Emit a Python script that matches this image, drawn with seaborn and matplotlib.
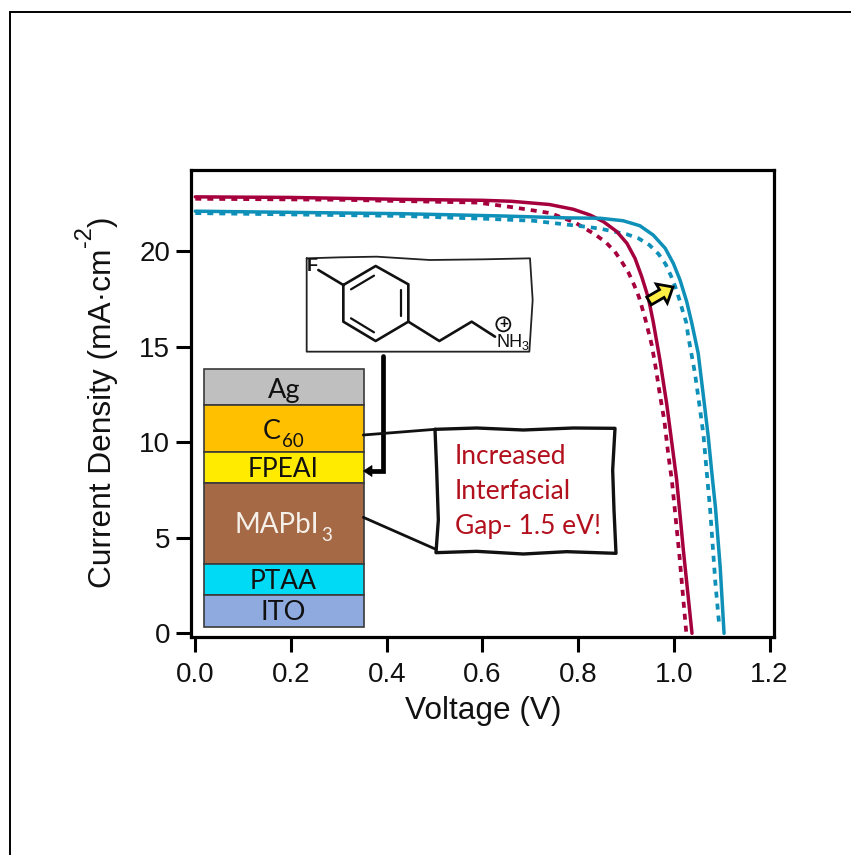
import numpy as np
import pandas as pd
import matplotlib
matplotlib.use("Agg")
import matplotlib.pyplot as plt
import seaborn as sns
from matplotlib.patches import Rectangle, FancyArrow, Circle

# ---- J-V curves ----
red_solid_v = [0.0, 0.2, 0.43, 0.6, 0.66, 0.74, 0.79, 0.825, 0.853, 0.881, 0.902, 0.919, 0.933, 0.947, 0.957,
               0.971, 0.985, 0.996, 1.006, 1.013, 1.02, 1.038]
red_solid_j = [22.85, 22.82, 22.72, 22.67, 22.62, 22.45, 22.2, 21.9, 21.55, 21.03, 20.42, 19.63, 18.67, 17.54, 16.31,
               14.31, 12.04, 9.95, 8.03, 6.2, 4.35, 0.0]

red_dash_v = [0.0, 0.3, 0.59, 0.665, 0.742, 0.794, 0.835, 0.858, 0.877, 0.892, 0.906, 0.917, 0.927, 0.934, 0.941,
              0.954, 0.963, 0.971, 0.98, 0.989, 0.996, 1.012, 1.026]
red_dash_j = [22.75, 22.7, 22.55, 22.3, 22.0, 21.5, 20.89, 20.47, 19.98, 19.42, 18.85, 18.24, 17.62, 17.02, 16.4,
              15.09, 13.79, 12.48, 11.17, 9.25, 8.0, 4.0, 0.05]

blue_solid_v = [0.0, 0.43, 0.64, 0.776, 0.846, 0.894, 0.929, 0.957, 0.982, 0.999, 1.013, 1.027, 1.037,
                1.051, 1.062, 1.072, 1.081, 1.087, 1.097, 1.105]
blue_solid_j = [22.1, 21.97, 21.85, 21.75, 21.73, 21.6, 21.34, 20.85, 20.16, 19.37, 18.5, 17.36, 16.31,
                14.66, 12.39, 10.29, 8.03, 6.6, 3.45, 0.0]

blue_dash_v = [0.0, 0.433, 0.61, 0.706, 0.776, 0.825, 0.849, 0.902, 0.926, 0.949, 0.968, 0.983, 0.994, 1.003,
               1.012, 1.019, 1.026, 1.03, 1.044, 1.055, 1.062, 1.069, 1.076, 1.087, 1.095]
blue_dash_j = [22.0, 21.85, 21.7, 21.6, 21.4, 21.26, 21.17, 20.89, 20.68, 20.33, 19.86, 19.32, 18.72, 18.15,
               17.45, 16.84, 16.28, 15.57, 13.64, 11.69, 10.38, 8.38, 6.45, 2.6, 0.4]

x_ticks = [0.0, 0.2, 0.4, 0.6, 0.8, 1.0, 1.2]
y_ticks = [0, 5, 10, 15, 20]

# device stack, top to bottom (pixel tops of each layer)
layer_names = ["Ag", "C", "FPEAI", "MAPbI", "PTAA", "ITO"]
layer_tops = [369, 405, 452, 483, 564, 595]
layer_bottoms = [405, 452, 483, 564, 595, 627]
layer_colors = ["#BFBFBF", "#FFC000", "#FFEB00", "#A56A45", "#00DAF5", "#8EAADF"]

RED = "#A5003D"
BLUE = "#0E90B8"
W, H = 851, 855

sns.set_theme(style="ticks")
plt.rcParams["font.family"] = ["Liberation Sans", "DejaVu Sans"]

fig = plt.figure(figsize=(W / 100, H / 100), dpi=100, facecolor="white")
ax = fig.add_axes([191 / W, 1 - 637 / H, (774 - 191) / W, (637 - 170) / H])

curves = pd.concat([
    pd.DataFrame({"v": red_dash_v, "j": red_dash_j, "s": "red_dash"}),
    pd.DataFrame({"v": blue_dash_v, "j": blue_dash_j, "s": "blue_dash"}),
    pd.DataFrame({"v": red_solid_v, "j": red_solid_j, "s": "red_solid"}),
    pd.DataFrame({"v": blue_solid_v, "j": blue_solid_j, "s": "blue_solid"}),
])
for name, col, ls, lw in [("red_dash", RED, (0, (1.6, 1.6)), 2.7), ("blue_dash", BLUE, (0, (1.6, 1.6)), 2.7),
                          ("red_solid", RED, "-", 2.5), ("blue_solid", BLUE, "-", 2.5)]:
    sns.lineplot(data=curves[curves.s == name], x="v", y="j", color=col, lw=lw,
                 linestyle=ls, estimator=None, sort=False, ax=ax, legend=False)

# pixel -> data calibration from the tick marks
ax.set_xlim((191 - 195.3) / 478.5, (774 - 195.3) / 478.5)
ax.set_ylim((633.3 - 637) / 19.1, (633.3 - 170) / 19.1)
ax.set_xticks(x_ticks)
ax.set_yticks(y_ticks)
ax.set_xticklabels([f"{t:.1f}" for t in x_ticks])
ax.tick_params(length=11, width=2.2, labelsize=20, color="black", labelcolor="#111111", pad=4)
ax.tick_params(axis="x", pad=7)
for s in ax.spines.values():
    s.set_visible(True)
    s.set_linewidth(2.3)
    s.set_color("black")
ax.set_xlabel("")
ax.set_ylabel("")

# overlay in pixel coordinates for the hand drawn bits
ov = fig.add_axes([0, 0, 1, 1], facecolor="none")
ov.set_xlim(0, W)
ov.set_ylim(H, 0)
ov.axis("off")

# frame left over from the slide
ov.plot([10, 10, W], [H, 12, 12], color="black", lw=1.4, solid_joinstyle="miter")

ov.text(483, 711, "Voltage (V)", fontsize=22.8, ha="center", va="center", color="#111111")
ov.text(103, 418, "Current Density (mA·cm", fontsize=22.8, rotation=90, ha="center", va="center", color="#111111")
ov.text(85, 237, "-2", fontsize=17, rotation=90, ha="center", va="center", color="#111111")
ov.text(103, 222, ")", fontsize=22.8, rotation=90, ha="center", va="center", color="#111111")

# device stack
for top, bot, col in zip(layer_tops, layer_bottoms, layer_colors):
    ov.add_patch(Rectangle((203.5, top), 160, bot - top, fc=col, ec="#3A3A3A", lw=1.2))

stack = dict(family=["Lato", "DejaVu Sans"], ha="center", va="center", color="#111111")
ov.text(284, 390, "Ag", fontsize=19.5, **stack)
ov.text(272, 431, "C", fontsize=19.5, **stack)
ov.text(293, 441, "60", fontsize=13.5, **stack)
ov.text(283, 469, "FPEAI", fontsize=19, **stack)
stack["color"] = "#F5F0EA"
ov.text(277, 525, "MAPbI", fontsize=20, **stack)
ov.text(327, 535, "3", fontsize=13.5, **stack)
stack["color"] = "#111111"
ov.text(283, 581, "PTAA", fontsize=19, **stack)
ov.text(283, 612, "ITO", fontsize=19.5, **stack)


def z1(px, py):
    # zoom crop coords of the molecule -> figure pixels
    return [190 + x / 3 for x in px], [240 + y / 3 for y in py]


def z2(px, py):
    return [190 + x / 3 for x in px], [360 + y / 3 for y in py]


# molecule box
ov.plot(*z1([350, 450, 560, 720, 880, 1020, 1028, 1018, 700, 350, 350],
            [55, 52, 50, 60, 58, 55, 180, 335, 335, 335, 55]), color="#222222", lw=1.3)
# ring and chain
ov.plot(*z1([460, 557, 655, 655, 557, 460, 460], [135, 78, 133, 245, 303, 245, 135]), color="#111111", lw=1.9)
ov.plot(*z1([385, 460], [90, 135]), color="#111111", lw=1.9)
ov.plot(*z1([655, 748, 845, 915], [245, 303, 245, 290]), color="#111111", lw=1.9)
ov.plot(*z1([483, 552], [148, 107]), color="#111111", lw=1.6)
ov.plot(*z1([632, 632], [150, 228]), color="#111111", lw=1.6)
ov.plot(*z1([483, 552], [235, 277]), color="#111111", lw=1.6)
ov.text(190 + 366 / 3, 240 + 78 / 3, "F", fontsize=13, fontweight="bold", ha="center", va="center", color="#111111")
ov.text(190 + 920 / 3, 240 + 307 / 3, "NH", fontsize=13, ha="left", va="center", color="#111111")
ov.text(190 + 1004 / 3, 240 + 320 / 3, "3", fontsize=9, ha="center", va="center", color="#111111")
ov.add_patch(Circle((190 + 940 / 3, 240 + 253 / 3), 7, fc="none", ec="#111111", lw=1.3))
ov.text(190 + 940 / 3, 240 + 252 / 3, "+", fontsize=11, fontweight="bold", ha="center", va="center", color="#111111")

# arrow molecule -> FPEAI
ov.plot([382.7, 382.7, 370], [356, 471, 471], color="black", lw=3.4, solid_joinstyle="miter")
ov.add_patch(FancyArrow(372, 471, -8.5, 0, width=0, head_width=11, head_length=8.5,
                        length_includes_head=True, fc="black", ec="black", lw=0.5))

# callout
ov.plot(*z2([735, 860, 1000, 1150, 1275, 1268, 1272, 1278, 1130, 1000, 860, 738, 745, 740, 735],
            [208, 204, 210, 204, 205, 330, 450, 580, 575, 582, 574, 578, 480, 330, 208]), color="#111111", lw=2.4)
ov.plot(*z2([520, 735], [225, 208]), color="#111111", lw=2)
ov.plot(*z2([520, 738], [472, 568]), color="#111111", lw=2)
for txt, yy in zip(["Increased", "Interfacial", "Gap- 1.5 eV!"], [456, 491, 526]):
    ov.text(455, yy, txt, fontsize=19, family=["Lato", "DejaVu Sans"], color="#B3101E", ha="left", va="center")

# yellow shift arrow
ov.add_patch(FancyArrow(649, 301, 24, -14, width=9, head_width=22, head_length=13,
                        length_includes_head=True, fc="#FFEE44", ec="black", lw=2, joinstyle="miter"))

fig.savefig("out.png", dpi=100)
